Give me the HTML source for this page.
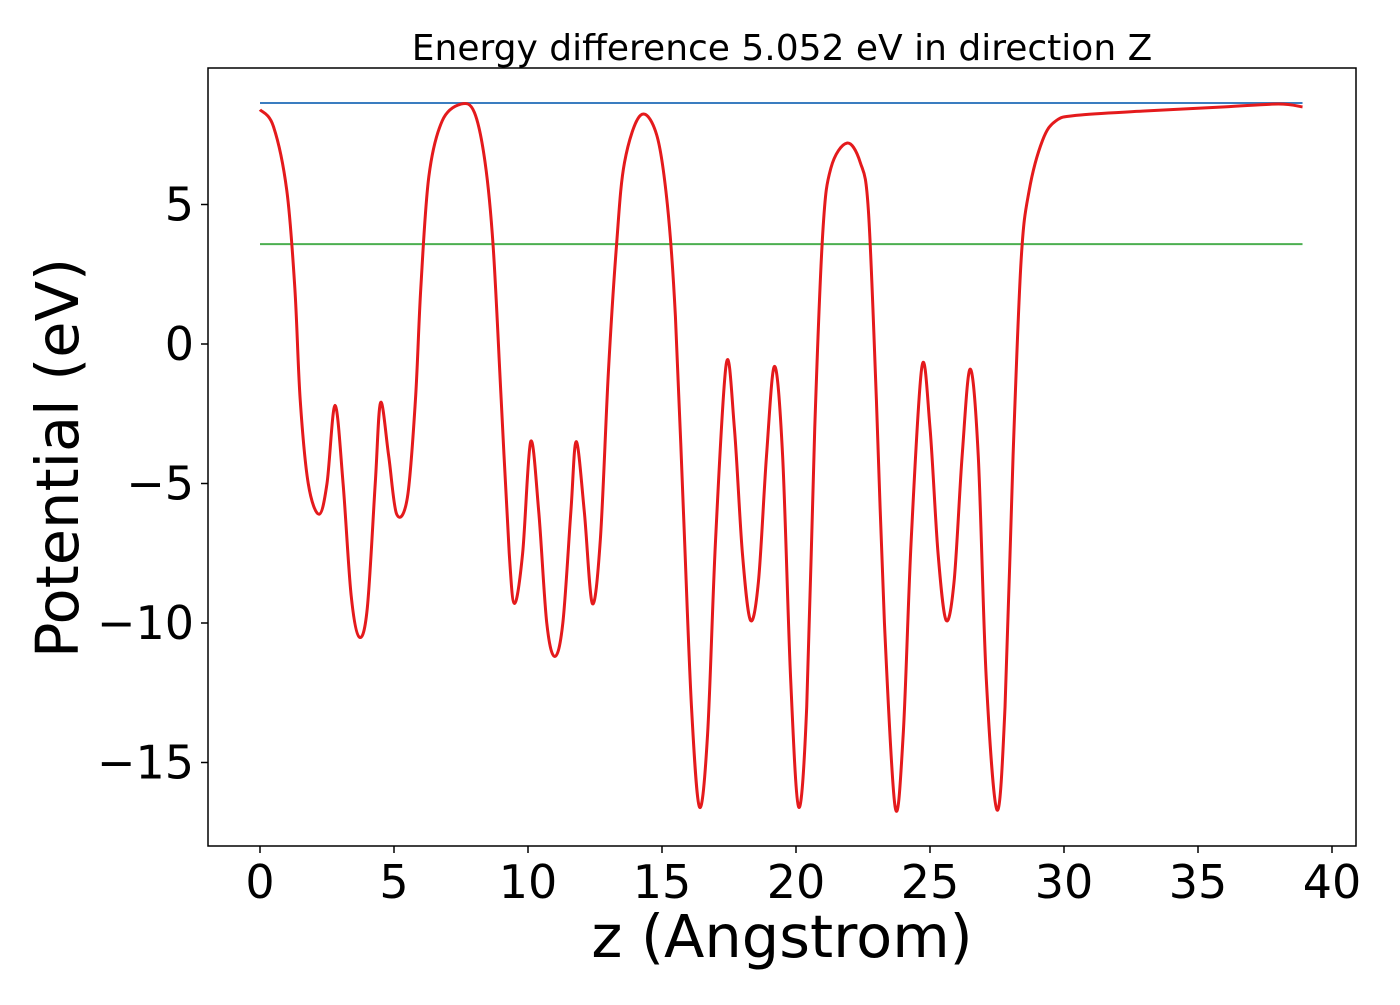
<!DOCTYPE html>
<html><head><meta charset="utf-8"><style>
html,body{margin:0;padding:0;background:#fff;}
svg text{font-family:"DejaVu Sans","Liberation Sans",sans-serif;fill:#000;}
</style></head><body>
<svg id="chart" width="1400" height="1000"></svg>
<script>
const xTicks=[0,5,10,15,20,25,30,35,40];
const yTicks=[5,0,-5,-10,-15];
const yTickLabels=["5","0","\u22125","\u221210","\u221215"];
const vacuumLevel=8.64;
const fermiLevel=3.58;
const zValues=[0,0.5,1.0,1.3,1.5,1.8,2.2,2.5,2.8,3.1,3.4,3.7,4.0,4.3,4.5,4.8,5.1,5.5,5.8,6.0,6.3,6.8,7.5,8.0,8.4,8.7,9.0,9.3,9.5,9.8,10.1,10.4,10.7,11.0,11.3,11.6,11.8,12.1,12.4,12.7,13.0,13.3,13.6,14.2,14.8,15.2,15.5,15.8,16.1,16.4,16.7,17.0,17.4,17.7,18.0,18.3,18.6,18.9,19.2,19.5,19.8,20.1,20.4,20.7,21.0,21.3,21.9,22.4,22.7,23.0,23.3,23.7,24.0,24.3,24.7,25.0,25.3,25.6,25.9,26.2,26.5,26.8,27.1,27.5,27.8,28.1,28.4,28.7,29.2,29.7,30.5,33,36,38,38.9];
const potValues=[8.4,7.8,5.5,2,-2,-5,-6.1,-5,-2.2,-5,-9,-10.5,-9.5,-5,-2.1,-4,-6.1,-5.5,-2,2,6,8.0,8.6,8.3,6.5,3.5,-2,-7.5,-9.3,-7.5,-3.5,-6,-10,-11.2,-10,-6,-3.5,-6,-9.3,-7,-1,3.5,6.5,8.2,7.5,5,1,-6,-13,-16.6,-14,-7,-0.7,-3,-7.5,-9.9,-8.5,-4,-0.8,-4,-12,-16.6,-13,-3,4,6.3,7.2,6.5,4.8,-2,-10,-16.6,-14,-7,-0.8,-3,-7.5,-9.9,-8.5,-4,-0.9,-4,-12,-16.7,-13,-4,3,5.5,7.3,8.0,8.2,8.35,8.5,8.6,8.5];

const NS="http://www.w3.org/2000/svg";
const svg=document.getElementById('chart');
const L=208,R=1356,T=68,B=846;
const X=z=>260+z*26.8;
const Y=v=>344-v*27.9;
function mk(tag,attrs,parent){const e=document.createElementNS(NS,tag);for(const k in attrs)e.setAttribute(k,attrs[k]);(parent||svg).appendChild(e);return e;}

let t=mk('text',{x:782,y:60,'font-size':36,'text-anchor':'middle'});


t.textContent='Energy difference 5.052 eV in direction Z';

xTicks.forEach(v=>{
  const tk=mk('line',{x1:X(v),x2:X(v),y1:B,y2:B+7,stroke:'#000','stroke-width':1.5});
  
  
  const lb=mk('text',{x:X(v),y:B+52,'font-size':46,'text-anchor':'middle'});
  
  
  lb.textContent=String(v);
});
yTicks.forEach((v,i)=>{
  const tk=mk('line',{x1:L-7,x2:L,y1:Y(v),y2:Y(v),stroke:'#000','stroke-width':1.5});
  
  
  const lb=mk('text',{x:L-14,y:Y(v)+16,'font-size':46,'text-anchor':'end'});
  
  
  lb.textContent=yTickLabels[i];
});

const xl=mk('text',{x:782,y:957,'font-size':59,'text-anchor':'middle'});


xl.textContent='z (Angstrom)';
const yl=mk('text',{x:0,y:0,'font-size':59,'text-anchor':'middle',transform:'translate(78,458) rotate(-90)'});


yl.textContent='Potential (eV)';

const zMax=zValues[zValues.length-1];
const vac=mk('line',{x1:X(0),x2:X(zMax),y1:Y(vacuumLevel),y2:Y(vacuumLevel),stroke:'#3a7dc0','stroke-width':2});


const fer=mk('line',{x1:X(0),x2:X(zMax),y1:Y(fermiLevel),y2:Y(fermiLevel),stroke:'#4caf50','stroke-width':2});



const pts=zValues.map((z,i)=>[X(z),Y(potValues[i])]);
let d='M'+pts[0][0]+','+pts[0][1];
for(let i=0;i<pts.length-1;i++){
  const p0=pts[Math.max(0,i-1)],p1=pts[i],p2=pts[i+1],p3=pts[Math.min(pts.length-1,i+2)];
  const c1=[p1[0]+(p2[0]-p0[0])/6,p1[1]+(p2[1]-p0[1])/6];
  const c2=[p2[0]-(p3[0]-p1[0])/6,p2[1]-(p3[1]-p1[1])/6];
  d+=' C'+c1[0]+','+c1[1]+' '+c2[0]+','+c2[1]+' '+p2[0]+','+p2[1];
}
const curve=mk('path',{d:d,fill:'none',stroke:'#e41a1c','stroke-width':3});



const frame=mk('rect',{x:L,y:T,width:R-L,height:B-T,fill:'none',stroke:'#000','stroke-width':1.5});


</script>
</body></html>
